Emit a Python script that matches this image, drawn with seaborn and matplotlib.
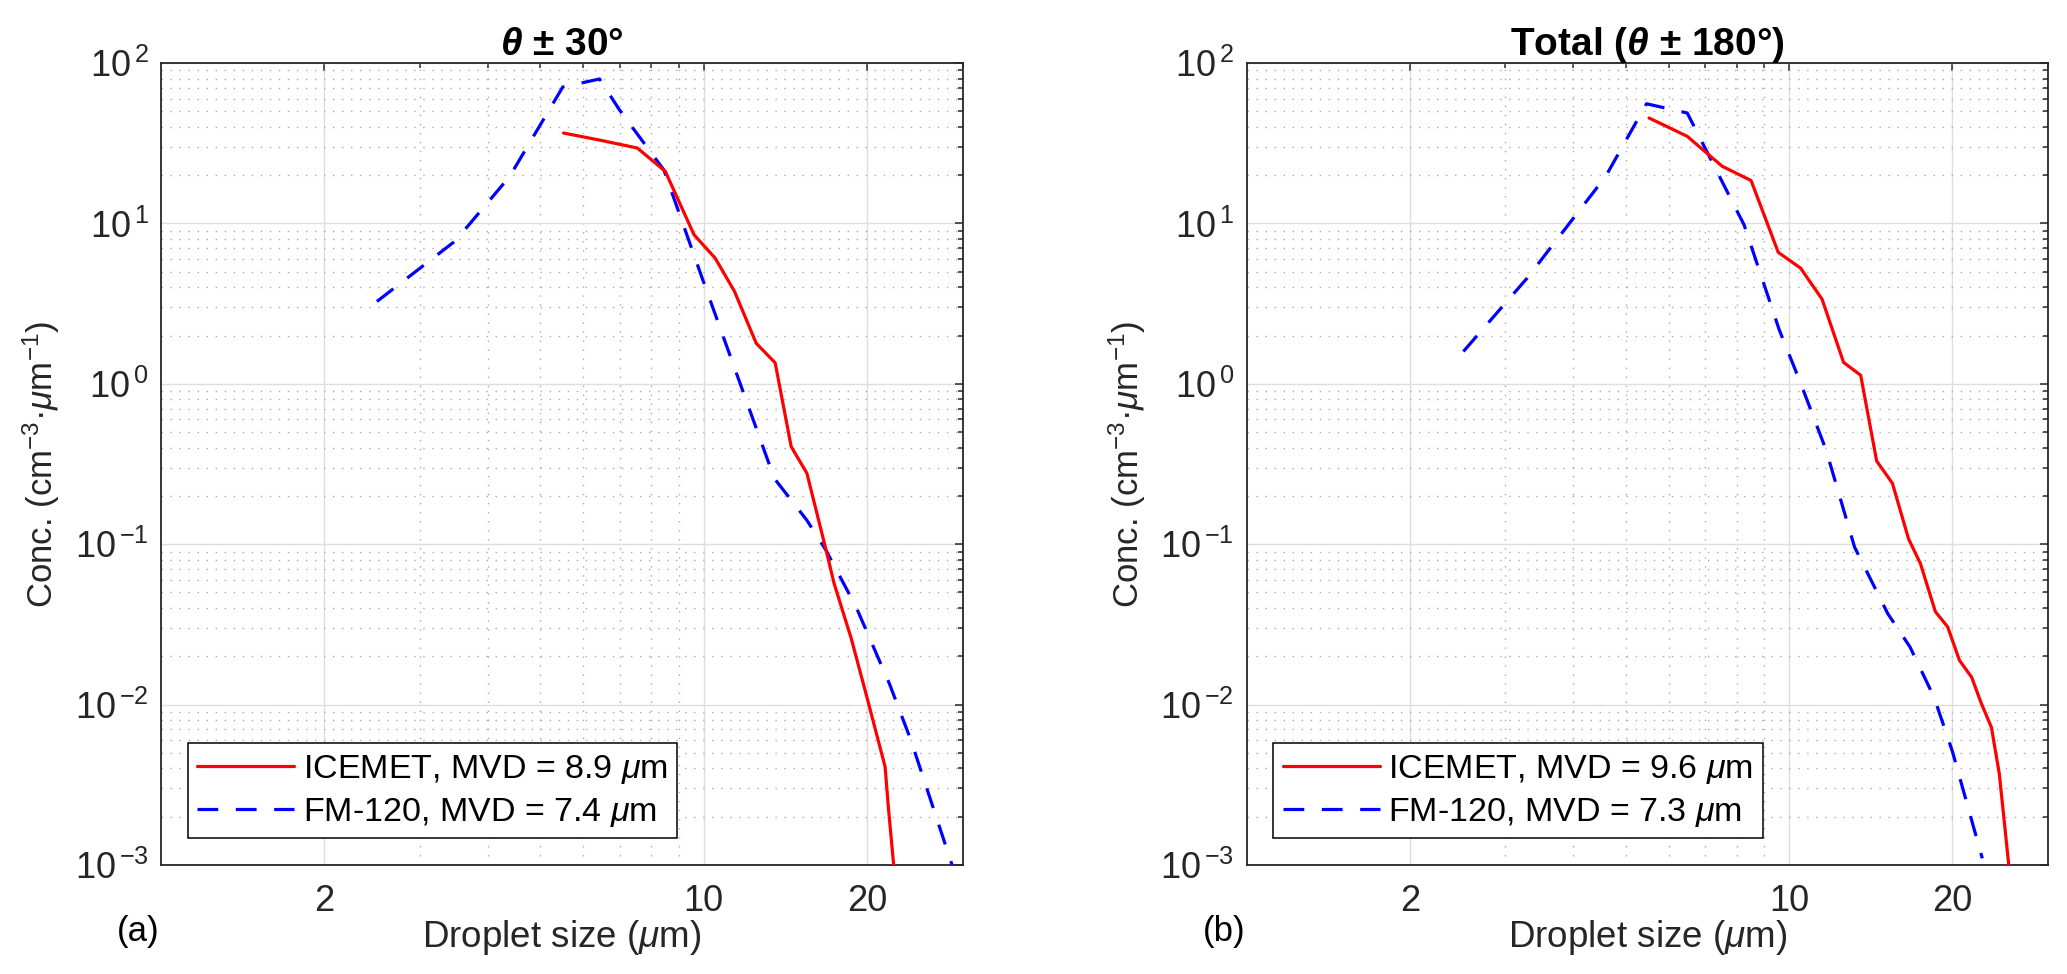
import numpy as np
import pandas as pd
import seaborn as sns
import matplotlib.pyplot as plt
from matplotlib.ticker import LogLocator, NullFormatter, FixedLocator, FixedFormatter, FuncFormatter

# values (droplet size in um, conc. in cm^-3 um^-1)
icemet_a_x = [5.52, 6.45, 7.55, 8.5, 9.6, 10.5, 11.4, 12.5, 13.55, 14.5, 15.5, 16.7, 17.4, 18.7, 20.0, 21.6, 21.9, 22.4]
icemet_a_y = [36.6, 33.0, 29.5, 21.1, 8.5, 6.08, 3.77, 1.79, 1.35, 0.406, 0.277, 0.101, 0.0568, 0.026, 0.0111, 0.0041, 0.0023, 0.001]
fm_a_x = [2.5, 3.49, 4.39, 5.5, 6.43, 7.0, 8.45, 9.93, 13.5, 15.5, 16.8, 19.1, 22.0, 24.1, 28.7]
fm_a_y = [3.26, 7.8, 19.6, 70.8, 79.5, 50.9, 21.5, 4.6, 0.257, 0.141, 0.092, 0.0406, 0.0135, 0.006, 0.001]

icemet_b_x = [5.52, 6.49, 7.53, 8.51, 9.55, 10.5, 11.5, 12.6, 13.55, 14.5, 15.5, 16.6, 17.46, 18.6, 19.6, 20.6, 21.7, 22.6, 23.6, 24.4, 25.4]
icemet_b_y = [45.4, 34.9, 22.7, 18.5, 6.6, 5.26, 3.37, 1.36, 1.13, 0.33, 0.24, 0.108, 0.0757, 0.038, 0.0305, 0.0189, 0.0148, 0.0102, 0.0072, 0.0037, 0.001]
fm_b_x = [2.51, 3.29, 4.59, 5.46, 6.49, 8.26, 9.59, 10.5, 11.7, 13.2, 15.2, 16.7, 18.5, 20.0, 22.7]
fm_b_y = [1.59, 4.56, 19.6, 55.7, 48.8, 9.8, 2.17, 1.01, 0.386, 0.096, 0.0369, 0.0229, 0.0111, 0.0051, 0.0011]

titles = [r"$\mathbfit{\theta}$ ± 30°", r"Total ($\mathbfit{\theta}$ ± 180°)"]
panel_tags = ["(a)", "(b)"]
icemet_labels = [r"ICEMET, MVD = 8.9 $\mu$m", r"ICEMET, MVD = 9.6 $\mu$m"]
fm_labels = [r"FM-120, MVD = 7.4 $\mu$m", r"FM-120, MVD = 7.3 $\mu$m"]
xtick_vals = [2, 10, 20]
xtick_labels = ["2", "10", "20"]

sns.set_theme(style="white")
plt.rcParams['font.family'] = ['Liberation Sans', 'DejaVu Sans']
plt.rcParams['mathtext.fontset'] = 'custom'
plt.rcParams['mathtext.rm'] = 'Liberation Sans'
plt.rcParams['mathtext.it'] = 'Liberation Sans:italic'
plt.rcParams['mathtext.bf'] = 'Liberation Sans:bold'
plt.rcParams['mathtext.bfit'] = 'Liberation Sans:italic:bold'
plt.rcParams['text.color'] = '#262626'
plt.rcParams['axes.labelcolor'] = '#262626'

dark = '#262626'
fs = 24.5


def pow_label(v, pos):
    # small gap between base and exponent like the matlab labels
    return r"$10^{\,{%d}}$" % int(round(np.log10(v)))


fig = plt.figure(figsize=(20.67, 9.74), dpi=100)
lefts = [161 / 2067, 1246.5 / 2067]
axes = [fig.add_axes([l, 109 / 974, 801.5 / 2067, 802 / 974]) for l in lefts]

data = [(icemet_a_x, icemet_a_y, fm_a_x, fm_a_y), (icemet_b_x, icemet_b_y, fm_b_x, fm_b_y)]

for i, ax in enumerate(axes):
    ix, iy, fx, fy = data[i]
    df_ice = pd.DataFrame({'size': ix, 'conc': iy})
    df_fm = pd.DataFrame({'size': fx, 'conc': fy})
    sns.lineplot(data=df_ice, x='size', y='conc', ax=ax, color='#ff0000', linewidth=2.3,
                 label=icemet_labels[i], zorder=4)
    sns.lineplot(data=df_fm, x='size', y='conc', ax=ax, color='#0000ff', linewidth=2.3,
                 linestyle=(0, (6.5, 5.5)), label=fm_labels[i], zorder=3)

    ax.set_xscale('log')
    ax.set_yscale('log')
    ax.set_xlim(1, 30)
    ax.set_ylim(1e-3, 1e2)

    ax.xaxis.set_major_locator(FixedLocator(xtick_vals))
    ax.xaxis.set_major_formatter(FixedFormatter(xtick_labels))
    ax.xaxis.set_minor_locator(LogLocator(base=10, subs=np.arange(2, 10)))
    ax.xaxis.set_minor_formatter(NullFormatter())
    ax.yaxis.set_major_locator(LogLocator(base=10, numticks=10))
    ax.yaxis.set_major_formatter(FuncFormatter(pow_label))
    ax.yaxis.set_minor_locator(LogLocator(base=10, subs=np.arange(2, 10), numticks=20))
    ax.yaxis.set_minor_formatter(NullFormatter())

    ax.grid(True, which='major', color='#dedede', linewidth=1.0, linestyle='-', zorder=0)
    ax.grid(True, which='minor', color='#aaaaaa', linewidth=1.0, linestyle=(0, (1, 5.5)), zorder=0)
    ax.set_axisbelow(True)

    ax.tick_params(which='both', direction='in', top=True, right=True, color=dark,
                   labelcolor=dark, labelsize=26, width=1.1)
    ax.tick_params(which='major', length=6)
    ax.tick_params(which='minor', length=3.5)
    ax.tick_params(axis='x', which='major', pad=14)
    ax.tick_params(axis='y', which='major', pad=9)
    for s in ax.spines.values():
        s.set_color(dark)
        s.set_linewidth(1.3)

    ax.set_title(titles[i], fontsize=28, fontweight='bold', color='black', pad=6)
    ax.set_xlabel(r"Droplet size ($\mu$m)", fontsize=26.5, labelpad=-1)
    ax.set_ylabel(r"Conc. (cm$^{-3}$·$\mu$m$^{-1}$)", fontsize=25, labelpad=9)
    ax.text(-0.028, -0.083, panel_tags[i], transform=ax.transAxes, ha='center', va='center',
            fontsize=25, color='black')

    leg = ax.legend(loc='lower left', fontsize=fs, frameon=True, fancybox=False,
                    framealpha=1, edgecolor='black', borderaxespad=0.78, borderpad=0.28,
                    handlelength=2.85, handletextpad=0.25, labelspacing=0.3)
    leg.get_frame().set_linewidth(1.1)
    for t in leg.get_texts():
        t.set_color('black')

fig.savefig('out.png', dpi=100)
